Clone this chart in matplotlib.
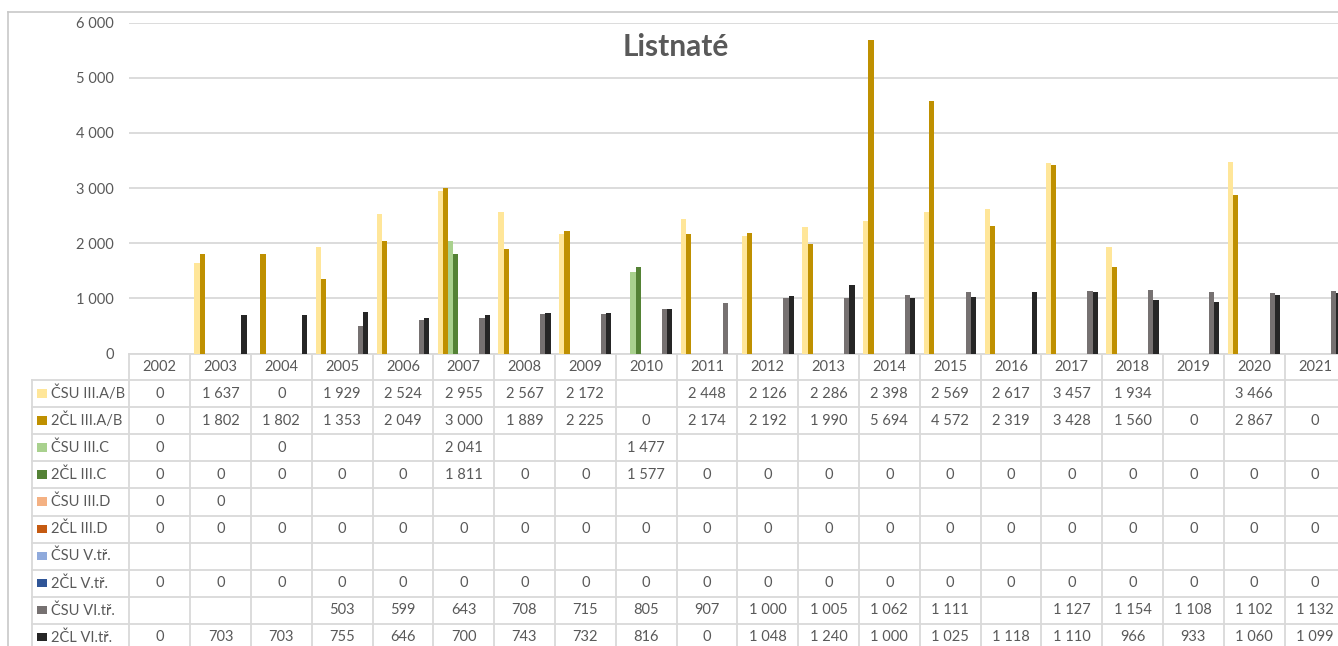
import numpy as np
import matplotlib
matplotlib.use("Agg")
import matplotlib.pyplot as plt
from matplotlib.transforms import blended_transform_factory
from matplotlib.patches import Rectangle
from matplotlib.lines import Line2D

plt.rcParams['font.family'] = ['Lato', 'DejaVu Sans']

years = [str(y) for y in range(2002, 2022)]

series_names = ["ČSU III.A/B", "2ČL III.A/B", "ČSU III.C", "2ČL III.C",
                "ČSU III.D", "2ČL III.D", "ČSU V.tř.", "2ČL V.tř.",
                "ČSU VI.tř.", "2ČL VI.tř."]
series_colors = ["#FFE699", "#BF9000", "#A9D18E", "#548235", "#F4B183",
                 "#C55A11", "#8FAADC", "#2F5597", "#767171", "#262626"]

N = None
csu_ab = [0, 1637, 0, 1929, 2524, 2955, 2567, 2172, N, 2448, 2126, 2286, 2398, 2569, 2617, 3457, 1934, N, 3466, N]
cl_ab = [0, 1802, 1802, 1353, 2049, 3000, 1889, 2225, 0, 2174, 2192, 1990, 5694, 4572, 2319, 3428, 1560, 0, 2867, 0]
csu_c = [0, N, 0, N, N, 2041, N, N, 1477, N, N, N, N, N, N, N, N, N, N, N]
cl_c = [0, 0, 0, 0, 0, 1811, 0, 0, 1577, 0, 0, 0, 0, 0, 0, 0, 0, 0, 0, 0]
csu_d = [0, 0] + [N] * 18
cl_d = [0] * 20
csu_v = [N] * 20
cl_v = [0] * 20
csu_vi = [N, N, N, 503, 599, 643, 708, 715, 805, 907, 1000, 1005, 1062, 1111, N, 1127, 1154, 1108, 1102, 1132]
cl_vi = [0, 703, 703, 755, 646, 700, 743, 732, 816, 0, 1048, 1240, 1000, 1025, 1118, 1110, 966, 933, 1060, 1099]

series = [csu_ab, cl_ab, csu_c, cl_c, csu_d, cl_d, csu_v, cl_v, csu_vi, cl_vi]

text_col = "#595959"
grid_col = "#d9d9d9"

W, H = 1338, 646
fig = plt.figure(figsize=(W / 100, H / 100), dpi=100)
fig.patch.set_facecolor("white")

# axes placed in pixels (plot area runs past the right edge, as in the source)
ax_l, ax_r, ax_b, ax_t = 129.3, 129.3 + 20 * 60.8, 353.5, 22.7
ax = fig.add_axes([ax_l / W, 1 - ax_b / H, (ax_r - ax_l) / W, (ax_b - ax_t) / H])
ax_h = ax_b - ax_t

x = np.arange(len(years))
bw = 0.086
for i, (vals, col) in enumerate(zip(series, series_colors)):
    v = np.array([np.nan if a is None else a for a in vals], dtype=float)
    ax.bar(x + (i - 4.5) * bw, np.nan_to_num(v), width=bw, color=col, linewidth=0, zorder=3)

ax.set_xlim(-0.5, len(years) - 0.5)
ax.set_ylim(0, 6000)
ax.set_yticks(range(0, 6001, 1000))
ax.yaxis.set_major_formatter(plt.FuncFormatter(lambda v, p: f"{int(v):,}".replace(",", " ")))
ax.tick_params(axis="y", length=0, pad=11, labelsize=10.5, labelcolor=text_col)
ax.set_xticks([])
ax.grid(axis="y", color=grid_col, linewidth=1.3, zorder=0)
for s in ax.spines.values():
    s.set_visible(False)

fig.text(676 / W, 1 - 47 / H, "Listnaté", ha="center", va="center",
         fontsize=21.5, fontweight="bold", color=text_col)

# data table under the plot
tr = blended_transform_factory(ax.transData, ax.transAxes)
head_h = 26.5 / ax_h
row_h = 27.1 / ax_h
leg_x0 = -0.5 - (ax_l - 31.7) / 60.8
n_rows = len(series)
bottom = -head_h - n_rows * row_h
lw = 1.3

def hline(x0, x1, y):
    ax.add_line(Line2D([x0, x1], [y, y], transform=tr, color=grid_col, lw=lw, clip_on=False))

def vline(xx, y0, y1):
    ax.add_line(Line2D([xx, xx], [y0, y1], transform=tr, color=grid_col, lw=lw, clip_on=False))

hline(-0.5, len(years), 0)
for r in range(n_rows + 1):
    hline(leg_x0, len(years), -head_h - r * row_h)
vline(leg_x0, -head_h, bottom)
for c in range(len(years) + 1):
    vline(c - 0.5, 0, bottom)

for c, yr in enumerate(years):
    ax.text(c, -head_h / 2, yr, transform=tr, ha="center", va="center",
            fontsize=10.5, color=text_col, clip_on=False)

for r, (name, col, vals) in enumerate(zip(series_names, series_colors, series)):
    yc = -head_h - (r + 0.5) * row_h
    ax.add_patch(Rectangle((leg_x0 + 0.087, yc - 4.0 / ax_h), 10 / 60.8, 8.5 / ax_h,
                           transform=tr, facecolor=col, edgecolor="none", clip_on=False))
    ax.text(leg_x0 + 0.317, yc, name, transform=tr, ha="left", va="center",
            fontsize=10.5, color=text_col, clip_on=False)
    for c, v in enumerate(vals):
        if v is None:
            continue
        ax.text(c, yc, f"{v:,}".replace(",", " "), transform=tr, ha="center", va="center",
                fontsize=10.5, color=text_col, clip_on=False)

# chart area frame
fig.add_artist(Line2D([8 / W, 8 / W], [0, 1 - 12 / H], color="#c8c8c8", lw=1.2))
fig.add_artist(Line2D([8 / W, 1], [1 - 12 / H, 1 - 12 / H], color="#c8c8c8", lw=1.2))

fig.savefig("out.png", dpi=100)
